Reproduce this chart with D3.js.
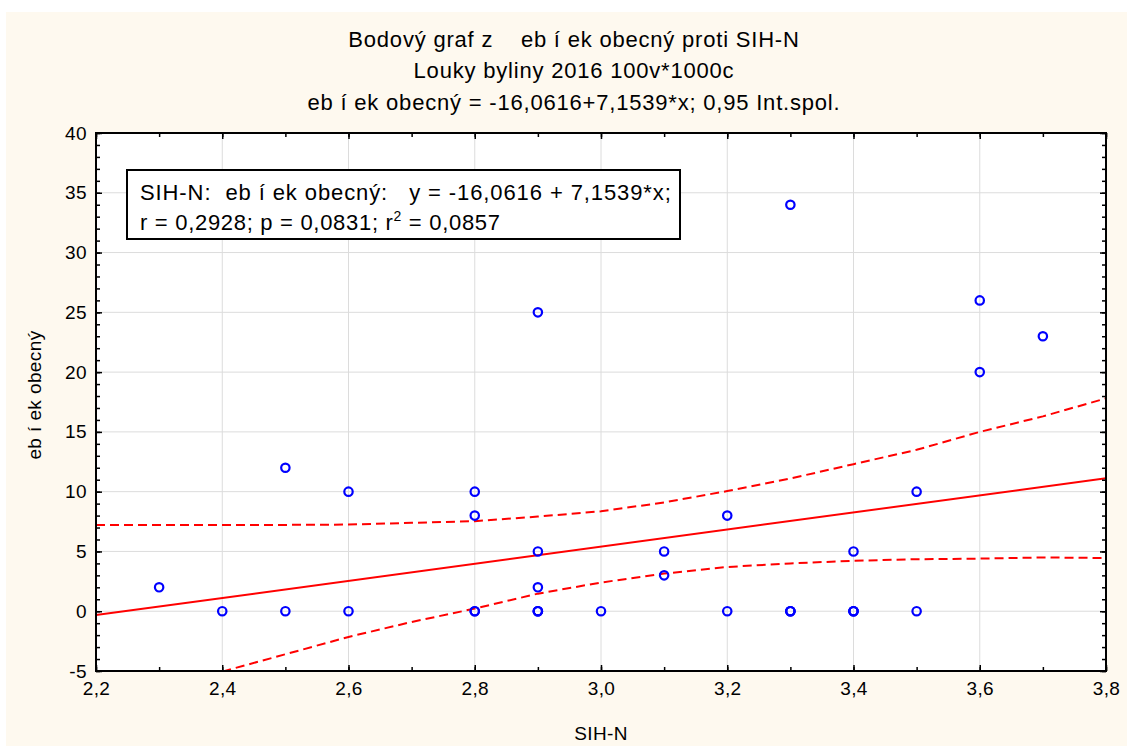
<!DOCTYPE html>
<html>
<head>
<meta charset="utf-8">
<script src="https://cdn.jsdelivr.net/npm/d3@7"></script>
<style>
  html, body { margin: 0; padding: 0; background: #ffffff; }
  svg { display: block; }
  text { font-family: "Liberation Sans", Arial, sans-serif; fill: #000; white-space: pre; }
</style>
</head>
<body>
<svg id="chart" width="1127" height="746"></svg>
<script>
// Observations: SIH-N (x) against the species value (y)
const sihN = [2.3, 2.4, 2.5, 2.5, 2.6, 2.6, 2.8, 2.8, 2.8, 2.8,
              2.9, 2.9, 2.9, 2.9, 2.9, 2.9, 3.0, 3.1, 3.1, 3.2,
              3.2, 3.3, 3.3, 3.3, 3.3, 3.4, 3.4, 3.4, 3.4, 3.5,
              3.5, 3.6, 3.6, 3.7];
const species = [2, 0, 12, 0, 10, 0, 10, 8, 0, 0,
                 25, 5, 2, 0, 0, 0, 0, 5, 3, 8,
                 0, 34, 0, 0, 0, 5, 0, 0, 0, 10,
                 0, 26, 20, 23];

// Fitted line coefficients
const intercept = -16.0616;
const slope = 7.1539;

// 0.95 confidence band
const bandUpperX = [2.2, 2.3, 2.4, 2.5, 2.6, 2.7, 2.8, 2.9, 3.0, 3.1, 3.2, 3.3, 3.4, 3.5, 3.6, 3.7, 3.8];
const bandUpper  = [7.22, 7.22, 7.22, 7.22, 7.25, 7.39, 7.53, 7.92, 8.36, 9.1, 10.05, 11.1, 12.3, 13.5, 15.0, 16.3, 17.8];
const bandLowerX = [2.4, 2.5, 2.6, 2.7, 2.8, 2.9, 3.0, 3.1, 3.2, 3.3, 3.4, 3.5, 3.6, 3.7, 3.8];
const bandLower  = [-5.05, -3.6, -2.15, -0.9, 0.22, 1.47, 2.4, 3.15, 3.7, 4.0, 4.22, 4.35, 4.4, 4.5, 4.45];

// Axis ticks
const xTicks = [2.2, 2.4, 2.6, 2.8, 3.0, 3.2, 3.4, 3.6, 3.8];
const yTicks = [-5, 0, 5, 10, 15, 20, 25, 30, 35, 40];

// Texts
const titleLines = [
  "Bodový graf z    eb í ek obecný proti SIH-N",
  "Louky byliny 2016 100v*1000c"
];
const yLabel = "eb í ek obecný";
const xLabel = "SIH-N";

const cz = d3.formatLocale({decimal: ",", thousands: " ", grouping: [3], currency: ["", " Kč"], minus: "-"});
const f1 = cz.format(".1f");
const f4 = cz.format(".4f");
const fInt = cz.format("d");

const W = 1127, H = 746;
const margin = {left: 96, right: 21, top: 133, bottom: 75};
const svg = d3.select("#chart");

// Page background
svg.append("rect").attr("x", 0).attr("y", 0).attr("width", W).attr("height", H).attr("fill", "#ffffff");
svg.append("rect").attr("x", 6).attr("y", 12).attr("width", W - 6).attr("height", H - 12).attr("fill", "#fef9ef");

const x = d3.scaleLinear().domain([2.2, 3.8]).range([margin.left, W - margin.right]);
const y = d3.scaleLinear().domain([-5, 40]).range([H - margin.bottom, margin.top]);
const [x0, x1] = x.range();
const [y0, y1] = y.range();

// Plot area
svg.append("rect").attr("x", x0).attr("y", y1).attr("width", x1 - x0).attr("height", y0 - y1).attr("fill", "#ffffff");

svg.append("clipPath").attr("id", "plotClip")
  .append("rect").attr("x", x0).attr("y", y1).attr("width", x1 - x0).attr("height", y0 - y1);

// Grid
const grid = svg.append("g").attr("stroke", "#dcdcdc").attr("stroke-width", 1);
grid.selectAll("line.gx").data(xTicks.slice(1, -1)).join("line")
  .attr("x1", d => x(d)).attr("x2", d => x(d)).attr("y1", y1).attr("y2", y0);
grid.selectAll("line.gy").data(yTicks.slice(1, -1)).join("line")
  .attr("x1", x0).attr("x2", x1).attr("y1", d => y(d)).attr("y2", d => y(d));

// Regression line and confidence band
const plot = svg.append("g").attr("clip-path", "url(#plotClip)");
const fit = x.domain().map(v => [v, intercept + slope * v]);
const line = d3.line().x(d => x(d[0])).y(d => y(d[1]));
plot.append("path").datum(fit).attr("d", line)
  .attr("fill", "none").attr("stroke", "#ff0000").attr("stroke-width", 2);
plot.append("path").datum(bandUpperX.map((v, i) => [v, bandUpper[i]])).attr("d", line)
  .attr("fill", "none").attr("stroke", "#ff0000").attr("stroke-width", 2).attr("stroke-dasharray", "9,5");
plot.append("path").datum(bandLowerX.map((v, i) => [v, bandLower[i]])).attr("d", line)
  .attr("fill", "none").attr("stroke", "#ff0000").attr("stroke-width", 2).attr("stroke-dasharray", "9,5");

// Points
plot.selectAll("circle").data(sihN.map((v, i) => [v, species[i]])).join("circle")
  .attr("cx", d => x(d[0])).attr("cy", d => y(d[1])).attr("r", 4.2)
  .attr("fill", "none").attr("stroke", "#0000ff").attr("stroke-width", 2.2);

// Axes: inward ticks, minor ticks every 0.1 / 1 unit
const xMinor = d3.range(22, 39).map(v => v / 10);
const yMinor = d3.range(-5, 41);
function styleAxis(g) {
  g.select(".domain").remove();
  g.selectAll(".tick line").attr("stroke", "#000").attr("stroke-width", 1.5);
}
svg.append("g").attr("transform", `translate(0,${y0})`)
  .call(d3.axisBottom(x).tickValues(xMinor).tickSize(-4).tickFormat(""))
  .call(styleAxis);
svg.append("g").attr("transform", `translate(0,${y1})`)
  .call(d3.axisTop(x).tickValues(xMinor).tickSize(-4).tickFormat(""))
  .call(styleAxis);
svg.append("g").attr("transform", `translate(${x0},0)`)
  .call(d3.axisLeft(y).tickValues(yMinor).tickSize(-4).tickFormat(""))
  .call(styleAxis);
svg.append("g").attr("transform", `translate(${x1},0)`)
  .call(d3.axisRight(y).tickValues(yMinor).tickSize(-4).tickFormat(""))
  .call(styleAxis);

const xAxis = svg.append("g").attr("transform", `translate(0,${y0})`)
  .call(d3.axisBottom(x).tickValues(xTicks).tickSize(-6).tickPadding(11).tickFormat(f1))
  .call(styleAxis);
const yAxis = svg.append("g").attr("transform", `translate(${x0},0)`)
  .call(d3.axisLeft(y).tickValues(yTicks).tickSize(-6).tickPadding(9).tickFormat(fInt))
  .call(styleAxis);
svg.append("g").attr("transform", `translate(${x1},0)`)
  .call(d3.axisRight(y).tickValues(yTicks).tickSize(-6).tickFormat(""))
  .call(styleAxis);
svg.append("g").attr("transform", `translate(0,${y1})`)
  .call(d3.axisTop(x).tickValues(xTicks).tickSize(-6).tickFormat(""))
  .call(styleAxis);
[xAxis, yAxis].forEach(g => g.selectAll("text")
  .attr("font-family", "Liberation Sans, Arial, sans-serif").attr("font-size", 19)
  .attr("letter-spacing", 0.4).attr("fill", "#000"));

// Frame
svg.append("rect").attr("x", x0).attr("y", y1).attr("width", x1 - x0).attr("height", y0 - y1)
  .attr("fill", "none").attr("stroke", "#000").attr("stroke-width", 2);

// Titles
const cx = 574;
const titleStyle = t => t.attr("x", cx).attr("text-anchor", "middle").attr("font-size", 22).attr("letter-spacing", 0.8);
svg.append("text").attr("y", 47).call(titleStyle).text(titleLines[0]);
svg.append("text").attr("y", 78).call(titleStyle).text(titleLines[1]);
svg.append("text").attr("y", 110).call(titleStyle)
  .text(`${yLabel} = ${f4(intercept)}+${f4(slope)}*x; 0,95 Int.spol.`);

// Axis titles
svg.append("text").attr("transform", "translate(41,395) rotate(-90)").attr("text-anchor", "middle")
  .attr("font-size", 19).attr("letter-spacing", 0.4).text(yLabel);
svg.append("text").attr("x", x(3.0)).attr("y", 740).attr("text-anchor", "middle")
  .attr("font-size", 19).attr("letter-spacing", 0.4).text(xLabel);

// Fit summary box
const box = svg.append("g");
box.append("rect").attr("x", 127).attr("y", 170).attr("width", 553).attr("height", 69)
  .attr("fill", "#ffffff").attr("stroke", "#000").attr("stroke-width", 2);
box.append("text").attr("x", 140).attr("y", 200).attr("font-size", 22).attr("letter-spacing", 0.9)
  .text(`SIH-N:  ${yLabel}:   y = ${f4(intercept)} + ${f4(slope)}*x;`);
const t2 = box.append("text").attr("x", 140).attr("y", 230).attr("font-size", 22).attr("letter-spacing", 0.7);
t2.append("tspan").text("r = 0,2928; p = 0,0831; r");
t2.append("tspan").attr("font-size", 14).attr("dy", -9).text("2");
t2.append("tspan").attr("dy", 9).text(" = 0,0857");
</script>
</body>
</html>
